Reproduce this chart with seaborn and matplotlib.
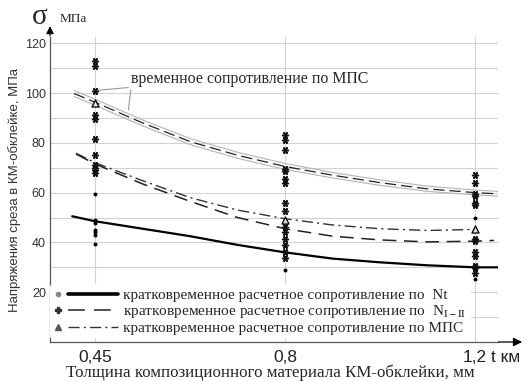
import numpy as np
import pandas as pd
import matplotlib
matplotlib.use("Agg")
import matplotlib.pyplot as plt
import seaborn as sns
from matplotlib.lines import Line2D
from matplotlib.legend_handler import HandlerBase

# x axis: three thicknesses, drawn evenly spaced
thickness_labels = ["0,45", "0,8", "1,2"]
thickness_pos = [0, 1, 2]

# curves (position index -> MPa)
uts_pos = [-0.11, 0, 0.25, 0.5, 0.75, 1, 1.25, 1.5, 1.75, 2, 2.12]
uts_mid = [99.8, 96.3, 88, 80.5, 75, 70.5, 67, 64, 61.5, 60, 59.5]
uts_hi = [101.0, 97.5, 89.2, 81.7, 76.2, 71.7, 68.1, 65.1, 62.6, 61.0, 60.5]
uts_lo = [98.6, 95.1, 86.8, 79.3, 73.8, 69.3, 65.9, 62.9, 60.5, 59.1, 58.6]

nt_pos = [-0.12, 0, 0.25, 0.5, 0.75, 1, 1.25, 1.5, 1.75, 2, 2.12]
nt_vals = [50.5, 48.5, 45.5, 42.5, 39, 36, 33.5, 32, 30.8, 30, 30]

ni_pos = [-0.1, 0, 0.25, 0.5, 0.75, 1, 1.25, 1.5, 1.75, 2, 2.1]
ni_vals = [75.5, 71.5, 63.5, 56.5, 50, 45.5, 42.5, 41, 40.2, 40.5, 40.8]

mps_pos = [-0.1, 0, 0.25, 0.5, 0.75, 1, 1.25, 1.5, 1.75, 2]
mps_vals = [75.8, 72, 64.8, 58, 53, 49.5, 47, 45.5, 44.8, 45.2]

# test points at each thickness
p045_star = [113, 111, 101, 91, 89.5, 81.5, 75.2, 71, 70, 69, 68]
p045_dot = [59.5, 49, 47.8, 45, 44, 43, 39.5]
p045_tri = [96]
p08_star = [83, 81, 77, 69.5, 68.5, 65.5, 64, 56, 52.5, 46, 44, 41.5, 39, 36, 33.7]
p08_dot = [29]
p08_tri = [49]
p12_star = [67, 64, 59.5, 58.5, 55.8, 55, 41.5, 40.5, 36.3, 34.5, 30.5, 29.8, 27.7]
p12_dot = [25.5, 49.8]
p12_tri = [45.4]

legend_labels = [
    "кратковременное расчетное сопротивление по  Nt",
    r"кратковременное расчетное сопротивление по  N$_{\mathrm{I-II}}$",
    "кратковременное расчетное сопротивление по МПС",
]


def pts(groups):
    rows = []
    for pos, vals in groups:
        rows += [(pos, v) for v in vals]
    return pd.DataFrame(rows, columns=["pos", "val"])


stars = pts([(0, p045_star), (1, p08_star), (2, p12_star)])
dots = pts([(0, p045_dot), (1, p08_dot), (2, p12_dot)])
tris = pts([(0, p045_tri), (1, p08_tri), (2, p12_tri)])

sns.set_style("white")
plt.rcParams["mathtext.fontset"] = "stix"
serif = ["Liberation Serif", "DejaVu Serif"]
narrow = ["Liberation Sans Narrow", "Liberation Sans", "DejaVu Sans"]

fig = plt.figure(figsize=(5.3, 3.81), dpi=100)
ax = fig.add_axes([50 / 530, 1 - 342 / 381, 448 / 530, 305 / 381])

# ultimate strength band
sns.lineplot(x=uts_pos, y=uts_hi, ax=ax, color="#b5b5b5", lw=0.8)
sns.lineplot(x=uts_pos, y=uts_lo, ax=ax, color="#b5b5b5", lw=0.8)
sns.lineplot(x=uts_pos, y=uts_mid, ax=ax, color="#222222", lw=0.9)
ax.lines[-1].set_dashes((9, 4))

sns.lineplot(x=mps_pos, y=mps_vals, ax=ax, color="#333333", lw=1.0)
ax.lines[-1].set_dashes((8, 3, 1.5, 3))
sns.lineplot(x=ni_pos, y=ni_vals, ax=ax, color="#222222", lw=1.1)
ax.lines[-1].set_dashes((9, 5))
sns.lineplot(x=nt_pos, y=nt_vals, ax=ax, color="black", lw=1.6)

sns.scatterplot(data=stars, x="pos", y="val", ax=ax, marker=(6, 2, 90),
                color="#111111", s=18, linewidth=1.1, zorder=5)
sns.scatterplot(data=dots, x="pos", y="val", ax=ax, marker="o",
                color="black", s=8, linewidth=0, zorder=5)
sns.scatterplot(data=tris, x="pos", y="val", ax=ax, marker="^",
                facecolor="#dddddd", edgecolor="black", s=26, linewidth=0.9, zorder=6)

ax.set_xlim(-0.237, 2.121)
ax.set_ylim(0, 122.5)
ax.set_xticks(thickness_pos)
ax.set_xticklabels(thickness_labels, family=narrow, fontsize=12.5, color="#222222")
ax.set_yticks(range(20, 121, 20))
ax.set_yticks(range(10, 121, 20), minor=True)
ax.set_yticklabels([str(v) for v in range(20, 121, 20)], family=narrow,
                   fontsize=9, color="#333333")
ax.tick_params(axis="x", length=7, color="#cccccc", width=0.8, pad=-1)
ax.tick_params(axis="y", which="both", length=4, color="#555555", width=0.8,
               direction="inout", pad=1)
ax.grid(axis="y", which="both", color="#d2d2d2", lw=0.8)
ax.grid(axis="x", which="major", color="#d2d2d2", lw=0.8)
ax.set_axisbelow(True)
ax.set_xlabel("")
ax.set_ylabel("Напряжения среза в КМ-обклейке, МПа", family=narrow,
              fontsize=9.5, color="#333333", labelpad=3)
for s in ["top", "right"]:
    ax.spines[s].set_visible(False)
for s in ["left", "bottom"]:
    ax.spines[s].set_color("#555555")
    ax.spines[s].set_linewidth(0.9)

# axis arrows
ax.annotate("", xy=(1.06, 0), xycoords="axes fraction", xytext=(0.995, 0),
            arrowprops=dict(arrowstyle="-|>", color="black", lw=0.9,
                            mutation_scale=13), annotation_clip=False)
ax.annotate("", xy=(0, 1.045), xycoords="axes fraction", xytext=(0, 0.995),
            arrowprops=dict(arrowstyle="-|>", color="black", lw=0.9,
                            mutation_scale=11), annotation_clip=False)

fig.text(40 / 530, 1 - 17 / 381, "σ", family=serif, fontsize=21,
         ha="center", va="center")
fig.text(60 / 530, 1 - 19 / 381, "МПа", family=serif, fontsize=9.5,
         ha="left", va="center")
fig.text(491 / 530, 1 - 357 / 381, "t км", family=narrow, fontsize=12.5,
         ha="left", va="center", color="#222222")
fig.text(270 / 530, 1 - 373 / 381,
         "Толщина композиционного материала КМ-обклейки, мм",
         family=serif, fontsize=12.2, ha="center", va="center")

# note for the strength band with two leader lines
ax.text(0.19, 105.5, "временное сопротивление по МПС", family=serif,
        fontsize=11.4, ha="left", va="center")
for target in [(0, p045_star[2]), (0.174, uts_hi[1] - 0.174 * 31)]:
    ax.annotate("", xy=target, xytext=(0.19, 102.3),
                arrowprops=dict(arrowstyle="-", color="#999999", lw=0.8))


class MarkerThenLine(HandlerBase):
    def create_artists(self, legend, orig_handle, xdescent, ydescent,
                       width, height, fontsize, trans):
        y = (height - ydescent) / 2
        x0 = -xdescent
        line = Line2D([x0 + 0.22 * width, x0 + width], [y, y])
        line.update_from(orig_handle)
        line.set_marker("")
        mark = Line2D([x0 + 0.06 * width], [y])
        mark.update_from(orig_handle)
        mark.set_linestyle("None")
        line.set_transform(trans)
        mark.set_transform(trans)
        return [line, mark]


h_nt = Line2D([], [], color="black", lw=2.6, marker="o", markersize=3,
              markerfacecolor="#888888", markeredgecolor="#888888")
h_ni = Line2D([], [], color="#222222", lw=1.1, dashes=(11, 6),
              marker="P", markersize=4, markerfacecolor="#333333",
              markeredgecolor="#333333")
h_mps = Line2D([], [], color="#333333", lw=1.0, dashes=(8, 3, 1.5, 3),
               marker="^", markersize=5, markerfacecolor="#555555",
               markeredgecolor="#555555")
leg = ax.legend([h_nt, h_ni, h_mps], legend_labels, loc="lower left",
                bbox_to_anchor=(0.0, 0.01), handler_map={Line2D: MarkerThenLine()},
                handlelength=4.2, handletextpad=0.35, labelspacing=0.08,
                borderpad=0.25, borderaxespad=0, frameon=True,
                prop={"family": serif, "size": 11})
leg.get_frame().set_facecolor("white")
leg.get_frame().set_edgecolor("none")
leg.get_frame().set_alpha(1)

fig.savefig("out.png", dpi=100)
